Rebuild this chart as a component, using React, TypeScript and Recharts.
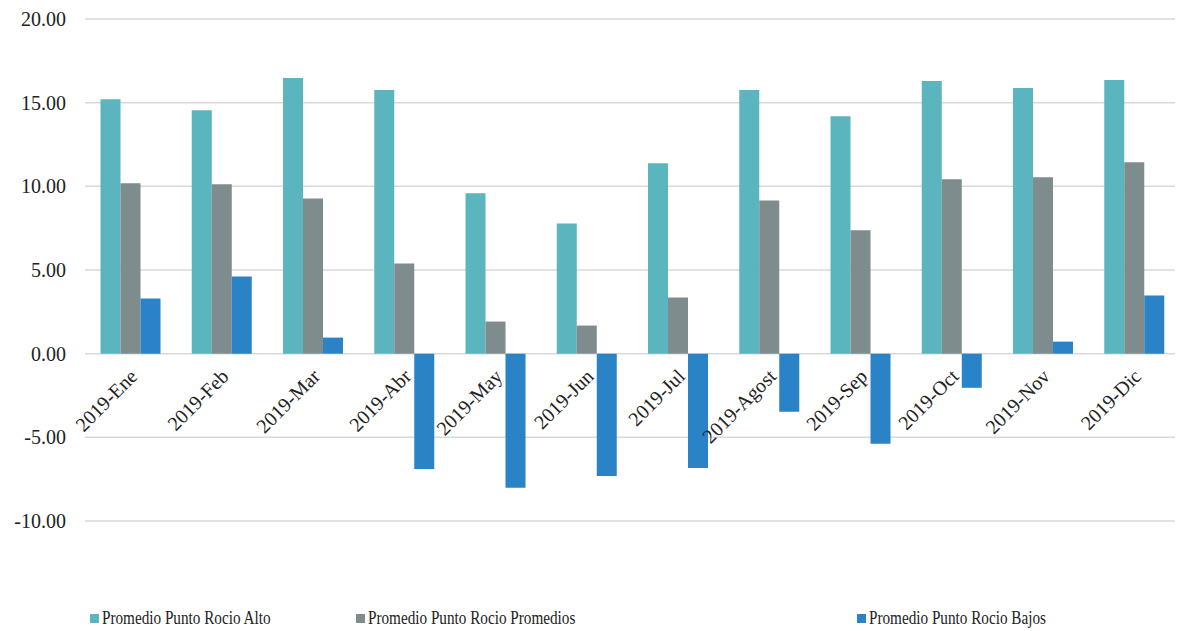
import React from 'react';
import { BarChart, Bar, XAxis, YAxis, CartesianGrid, Legend } from 'recharts';

const months = [
    '2019-Ene', '2019-Feb', '2019-Mar', '2019-Abr', '2019-May', '2019-Jun',
    '2019-Jul', '2019-Agost', '2019-Sep', '2019-Oct', '2019-Nov', '2019-Dic',
];
const alto = [15.2, 14.55, 16.47, 15.75, 9.58, 7.78, 11.38, 15.75, 14.19, 16.29, 15.87, 16.35];
const promedios = [10.18, 10.12, 9.28, 5.39, 1.92, 1.68, 3.35, 9.16, 7.37, 10.42, 10.54, 11.44];
const bajos = [3.29, 4.61, 0.96, -6.89, -8.02, -7.31, -6.83, -3.47, -5.39, -2.04, 0.72, 3.47];
const yTicks = [-10, -5, 0, 5, 10, 15, 20];

const SERIES = [
    { key: 'alto', name: 'Promedio Punto Rocio Alto', color: '#5AB5BF' },
    { key: 'promedios', name: 'Promedio Punto Rocio Promedios', color: '#7E8C8D' },
    { key: 'bajos', name: 'Promedio Punto Rocio Bajos', color: '#2A83C7' },
];

const FONT = 'Liberation Serif, serif';
const WIDTH = 1183;
const HEIGHT = 631;
const TOP = 19;
const PLOT_H = 502;
// pixel row of the zero line, the month labels hang just under it
const ZERO_Y = TOP + PLOT_H * (20 / 30);

const data = months.map((m, i) => ({
    month: m,
    alto: alto[i],
    promedios: promedios[i],
    bajos: bajos[i],
}));

const MonthTick = (props: any) => {
    const { x, payload } = props;
    const ax = x + 8;
    const ay = ZERO_Y + 24;
    return (
        <text
            x={ax}
            y={ay}
            textAnchor="end"
            fontFamily={FONT}
            fontSize={20}
            fill="#222"
            transform={`rotate(-45 ${ax} ${ay})`}
        >
            {payload.value}
        </text>
    );
};

const ValueTick = (props: any) => {
    const { x, y, payload } = props;
    return (
        <text x={x} y={y} dy={7} textAnchor="end" fontFamily={FONT} fontSize={20} fill="#222">
            {Number(payload.value).toFixed(2)}
        </text>
    );
};

const legendLeft = [90, 356, 857];

const LegendContent = () => (
    <div style={{ position: 'relative', width: WIDTH, height: 26, fontFamily: FONT, fontSize: 19, color: '#222' }}>
        {SERIES.map((s, i) => (
            <div key={s.key} style={{ position: 'absolute', left: legendLeft[i], top: 3, display: 'flex', alignItems: 'center', lineHeight: '22px', whiteSpace: 'nowrap' }}>
                <span style={{ display: 'inline-block', width: 9, height: 9, background: s.color, marginRight: 3 }} />
                <span style={{ display: 'inline-block', transform: 'scaleX(0.8)', transformOrigin: 'left center' }}>{s.name}</span>
            </div>
        ))}
    </div>
);

export default function App() {
    return (
        <div style={{ marginTop: -8, marginLeft: -8, width: WIDTH, height: HEIGHT, background: '#fff', fontFamily: FONT }}>
            <BarChart
                width={WIDTH}
                height={HEIGHT}
                data={data}
                margin={{ top: TOP, right: 3, bottom: 83, left: 0 }}
                barCategoryGap="17%"
                barGap={0}
            >
                <CartesianGrid horizontal vertical={false} stroke="#d9d9d9" strokeWidth={1.5} />
                <XAxis
                    dataKey="month"
                    height={1}
                    axisLine={false}
                    tickLine={false}
                    tick={<MonthTick />}
                    interval={0}
                />
                <YAxis
                    width={85}
                    domain={[-10, 20]}
                    ticks={yTicks}
                    axisLine={false}
                    tickLine={false}
                    tickSize={0}
                    tickMargin={19}
                    tick={<ValueTick />}
                />
                {SERIES.map((s) => (
                    <Bar key={s.key} dataKey={s.key} name={s.name} fill={s.color} isAnimationActive={false} />
                ))}
                <Legend
                    verticalAlign="bottom"
                    content={<LegendContent />}
                    wrapperStyle={{ position: 'absolute', top: 604, left: 0, bottom: 'auto', width: WIDTH, height: 26 }}
                />
            </BarChart>
        </div>
    );
}
